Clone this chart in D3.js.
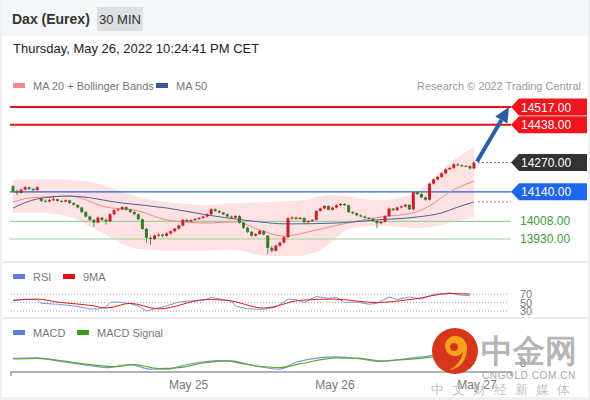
<!DOCTYPE html>
<html><head><meta charset="utf-8">
<script src="https://cdn.jsdelivr.net/npm/d3@7"></script>
<style>
body{margin:0;background:#fff;}
svg text{font-family:"Liberation Sans",Arial,sans-serif;}
</style>
</head><body>
<svg id="c" width="590" height="400"></svg>
<script>
// ---------- DATA ----------
const opens =[14165,14142,14135,14150,14160,14152,14148,14110,14100,14097,14103,14107,14099,14096,14102,14090,14082,14070,14050,14030,14015,14003,14025,14015,14008,14040,14058,14062,14072,14061,14050,14040,14018,13975,13935,13930,13945,13950,13944,13955,13965,13976,13990,14015,14008,14014,14019,14024,14030,14040,14062,14055,14048,14040,14030,14025,14032,14003,13980,13962,13945,13952,13966,13945,13890,13878,13900,13914,13938,14022,14026,14020,14024,14005,14010,14015,14055,14066,14077,14060,14070,14080,14086,14080,14050,14045,14035,14030,14024,14020,14010,14000,14006,14032,14065,14058,14070,14075,14082,14062,14138,14130,14115,14105,14176,14195,14206,14222,14240,14246,14262,14258,14255,14254,14244];
const highs =[14170,14150,14155,14166,14163,14158,14165,14114,14106,14108,14122,14110,14104,14106,14104,14094,14085,14073,14054,14034,14019,14030,14028,14022,14044,14062,14066,14076,14075,14066,14054,14043,14021,13980,13945,13950,13956,13954,13960,13968,13980,13994,14019,14020,14018,14022,14027,14034,14044,14066,14066,14058,14051,14044,14034,14036,14035,14006,13984,13966,13956,13970,13969,13948,13898,13905,13918,13942,14028,14030,14029,14028,14026,14014,14018,14058,14070,14080,14080,14074,14084,14090,14090,14083,14054,14048,14040,14034,14028,14024,14014,14010,14036,14070,14068,14074,14079,14086,14085,14142,14144,14134,14119,14180,14199,14210,14226,14244,14252,14266,14268,14262,14259,14257,14275];
const lows  =[14138,14125,14132,14146,14148,14143,14145,14094,14092,14094,14099,14096,14092,14093,14086,14078,14066,14045,14026,14010,13984,14000,14010,13994,14005,14036,14052,14058,14056,14046,14036,14014,13970,13914,13904,13925,13940,13936,13940,13950,13960,13972,13986,14004,14005,14010,14015,14020,14026,14036,14050,14043,14036,14026,14020,14021,13998,13975,13957,13940,13941,13948,13945,13862,13870,13874,13896,13910,13934,14015,14014,14016,14000,14001,14006,14012,14052,14062,14057,14057,14066,14076,14076,14046,14040,14031,14026,14020,14016,14006,13978,13996,14003,14028,14054,14055,14066,14071,14058,14058,14126,14111,14100,14101,14172,14191,14202,14218,14236,14242,14254,14251,14250,14238,14240];
const closes=[14142,14135,14150,14160,14152,14148,14160,14100,14097,14103,14107,14099,14096,14102,14090,14082,14070,14050,14030,14015,14003,14025,14015,14008,14040,14058,14062,14072,14061,14050,14040,14018,13975,13935,13930,13945,13950,13944,13955,13965,13976,13990,14015,14008,14014,14019,14024,14030,14040,14062,14055,14048,14040,14030,14025,14032,14003,13980,13962,13945,13952,13966,13950,13890,13878,13900,13914,13938,14022,14026,14020,14024,14005,14010,14015,14055,14066,14077,14060,14070,14080,14086,14080,14050,14045,14035,14030,14024,14020,14010,14000,14006,14032,14065,14058,14070,14075,14082,14062,14138,14130,14115,14105,14176,14195,14206,14222,14240,14246,14262,14258,14255,14254,14244,14270];

// indicator samples (candle index -> value)
const ma20Idx =[0,4,14,23,31,38,48,55,61,67,75,84,91,99,103,108,114];
const ma20Val =[14094,14112,14121,14072,14055,14015,14001,14006,13970,13943,13970,14006,14028,14046,14077,14139,14188];
const ma50Idx =[0,6,14,27,38,48,59,68,80,90,100,106,110,114];
const ma50Val =[14068,14108,14121,14090,14068,14037,14010,13997,14001,14015,14028,14046,14072,14095];
const bbUpIdx =[0,8,18,25,31,40,48,55,65,72,78,84,90,99,104,109,114];
const bbUpVal =[14192,14197,14188,14152,14117,14090,14081,14090,14095,14103,14126,14117,14103,14130,14201,14281,14339];
const bbLoIdx =[0,6,14,22,31,42,55,63,70,76,84,92,100,106,110,114];
const bbLoVal =[14046,14046,14028,13957,13886,13877,13881,13854,13854,13881,13979,13988,13979,13992,14010,14028];

const rsiIdx =[0,3,6,7,11,15,19,21,23,24,26,29,31,33,35,38,41,43,47,49,52,54,55,58,62,65,68,70,72,75,78,80,82,85,88,90,93,95,98,101,104,107,108,110,113];
const rsiVal =[55,58,57,48,46,42,35,35,39,50,51,47,42,30,35,42,51,53,55,62,57,53,42,35,34,39,58,57,50,64,60,62,50,51,46,48,63,57,63,58,69,71,73,68,66];
const rsiMaIdx=[0,6,11,20,23,29,36,48,53,62,71,79,90,99,108,113];
const rsiMaVal=[55,58,51,42,37,48,35,57,55,37,55,58,50,58,71,70];

const macdIdx =[0,6,11,20,23,29,34,38,43,51,54,60,66,70,80,85,91,95,99,104,108,113];
const macdVal =[12,13.6,5.6,-8,-12,-4,-16,-16,-4,6.4,5.6,-8,-16,2.4,16,12,4,8,13.6,20,28,32];
const sigIdx  =[0,6,12,21,25,30,36,41,47,53,57,66,71,80,86,91,95,102,108,113];
const sigVal  =[10.4,12,5.6,-6.4,-9.6,-4,-14.4,-12,0,5.6,-2.4,-12,-2.4,13.6,12,5.6,8,13.6,21.6,26.4];

const levels     =[14517,14438,14270,14140,14008,13930];
const levelKinds =["res","res","last","sup1","sup","sup"];
const tickLabels =["May 25","May 26","May 27"];
const tickIdx    =[43.3,79.5,114.6];
const rsiLevels  =[70,50,30];

// ---------- DRAW ----------
const svg=d3.select("#c");
const N=closes.length;
const x=d3.scaleLinear().domain([0,N-1]).range([13,474]);
const y=d3.scaleLinear().domain([13930,14517]).range([239,107]);
const yR=d3.scaleLinear().domain([30,70]).range([311,294]);
const yM=d3.scaleLinear().domain([-30,30]).range([374.5,351.5]);

// frame
svg.append("rect").attr("width",590).attr("height",400).attr("fill","#eef0f2");
svg.append("rect").attr("x",2).attr("y",0).attr("width",586).attr("height",36).attr("fill","#f5f6f7");
svg.append("rect").attr("x",2).attr("y",36).attr("width",586).attr("height",361).attr("fill","#fff");
svg.append("rect").attr("x",2).attr("y",261).attr("width",586).attr("height",2).attr("fill","#eceef0");
svg.append("rect").attr("x",2).attr("y",317).attr("width",586).attr("height",2).attr("fill","#eceef0");

// header
svg.append("text").attr("x",12).attr("y",24).attr("font-size",14).attr("font-weight","bold").attr("fill","#333").text("Dax (Eurex)");
svg.append("rect").attr("x",97).attr("y",7).attr("width",46).attr("height",24).attr("fill","#dcdfe3");
svg.append("text").attr("x",120).attr("y",24).attr("text-anchor","middle").attr("font-size",13).attr("fill","#333").text("30 MIN");
svg.append("text").attr("x",13).attr("y",53).attr("font-size",13).attr("fill","#222").text("Thursday, May 26, 2022 10:24:41 PM CET");

// legends
function legend(items,yy){
  items.forEach(it=>{
    svg.append("rect").attr("x",it.x).attr("y",yy-3).attr("width",12).attr("height",5).attr("fill",it.c);
    svg.append("text").attr("x",it.x+20).attr("y",yy+4).attr("font-size",11).attr("fill","#777").text(it.t);
  });
}
legend([{x:13,c:"#f48b8b",t:"MA 20 + Bollinger Bands"},{x:156,c:"#3b5a9a",t:"MA 50"}],86);
svg.append("text").attr("x",581).attr("y",90).attr("text-anchor","end").attr("font-size",11).attr("fill","#9a9a9a").text("Research \u00a9 2022 Trading Central");
legend([{x:13,c:"#5b7fdb",t:"RSI"},{x:63,c:"#e01010",t:"9MA"}],277);
legend([{x:13,c:"#5b7fdb",t:"MACD"},{x:77,c:"#3a9a1a",t:"MACD Signal"}],333);

// bollinger band area
function pts(idx,val){return idx.map((d,i)=>[d,val[i]]);}
const up=pts(bbUpIdx,bbUpVal), lo=pts(bbLoIdx,bbLoVal);
const mline=d3.line().x(d=>x(d[0])).y(d=>y(d[1])).curve(d3.curveMonotoneX);
const tmp=svg.append("path").attr("d",mline(lo)).attr("fill","none");
const len=tmp.node().getTotalLength();
const loSamples=[];
for(let s=len;s>=0;s-=2){const p=tmp.node().getPointAtLength(s);loSamples.push([p.x,p.y]);}
const p0=tmp.node().getPointAtLength(0); loSamples.push([p0.x,p0.y]);
tmp.remove();
svg.append("path").attr("d",mline(up)+"L"+loSamples.map(p=>p[0]+","+p[1]).join("L")+"Z")
  .attr("fill","#fbd5d5").attr("fill-opacity",0.7);

// level lines (behind candles)
const L0=10, L1=511;
levels.forEach((lv,i)=>{
  const k=levelKinds[i];
  if(k==="res") svg.append("line").attr("x1",L0).attr("x2",L1).attr("y1",y(lv)).attr("y2",y(lv)).attr("stroke","#e3141b").attr("stroke-width",2);
  else if(k==="sup1") svg.append("line").attr("x1",L0).attr("x2",L1).attr("y1",y(lv)).attr("y2",y(lv)).attr("stroke","#2a62d6").attr("stroke-width",1.2);
  else if(k==="sup") svg.append("line").attr("x1",L0).attr("x2",L1).attr("y1",y(lv)).attr("y2",y(lv)).attr("stroke","#9fcf9f").attr("stroke-width",1.2);
  else if(k==="last") svg.append("line").attr("x1",x(N-1)+4).attr("x2",L1).attr("y1",y(lv)).attr("y2",y(lv)).attr("stroke","#888").attr("stroke-width",1).attr("stroke-dasharray","2,2");
});
svg.append("line").attr("x1",x(N-1)+4).attr("x2",L1).attr("y1",y(ma50Val[ma50Val.length-1])).attr("y2",y(ma50Val[ma50Val.length-1])).attr("stroke","#888").attr("stroke-dasharray","2,2");

// MA lines
svg.append("path").attr("d",mline(pts(ma20Idx,ma20Val))).attr("fill","none").attr("stroke","#f08a8a").attr("stroke-width",1);
svg.append("path").attr("d",mline(pts(ma50Idx,ma50Val))).attr("fill","none").attr("stroke","#4d5f9c").attr("stroke-width",1);

// candles
const data=closes.map((c,i)=>({i,o:opens[i],h:highs[i],l:lows[i],c}));
const col=d=>d.c>=d.o?"#c8202a":"#3a7a28";
const cg=svg.append("g");
cg.selectAll("line").data(data).join("line")
  .attr("x1",d=>x(d.i)).attr("x2",d=>x(d.i)).attr("y1",d=>y(d.h)).attr("y2",d=>y(d.l))
  .attr("stroke",col).attr("stroke-width",1).attr("opacity",0.8);
cg.selectAll("rect").data(data).join("rect")
  .attr("x",d=>x(d.i)-1.5).attr("width",3)
  .attr("y",d=>y(Math.max(d.o,d.c))).attr("height",d=>Math.max(1,Math.abs(y(d.o)-y(d.c))))
  .attr("fill",col);

// level labels
levels.forEach((lv,i)=>{
  const k=levelKinds[i], cy=y(lv);
  const txt=lv.toFixed(2);
  if(k==="sup"){
    svg.append("text").attr("x",520).attr("y",cy+4).attr("font-size",12).attr("fill","#3c9a3c").text(txt);
  } else {
    const fill=k==="res"?"#f0141c":k==="last"?"#333333":"#1f66ef";
    svg.append("path").attr("d",`M511,${cy}L519,${cy-8.5}L587,${cy-8.5}L587,${cy+8.5}L519,${cy+8.5}Z`).attr("fill",fill);
    svg.append("text").attr("x",521).attr("y",cy+4.5).attr("font-size",12).attr("fill","#fff").text(txt);
  }
});

// arrow
const ax0=x(N-1)+3, ay0=y(closes[N-1])-1, ax1=509, ay1=y(14517);
const dx=ax1-ax0, dy=ay1-ay0, dl=Math.hypot(dx,dy), ux=dx/dl, uy=dy/dl;
const bx=ax1-ux*15, by=ay1-uy*15;
svg.append("line").attr("x1",ax0).attr("y1",ay0).attr("x2",bx).attr("y2",by).attr("stroke","#2c5ea6").attr("stroke-width",4);
svg.append("path").attr("d",`M${ax1},${ay1}L${bx-uy*7},${by+ux*7}L${bx+uy*7},${by-ux*7}Z`).attr("fill","#2c5ea6");

// RSI panel
rsiLevels.forEach(v=>{
  svg.append("line").attr("x1",11).attr("x2",509).attr("y1",yR(v)).attr("y2",yR(v)).attr("stroke","#aaa").attr("stroke-dasharray","1,2");
  svg.append("text").attr("x",520).attr("y",yR(v)+4).attr("font-size",11).attr("fill","#777").text(v);
});
const lineR=d3.line().x(d=>x(d[0])).y(d=>yR(d[1]));
svg.append("path").attr("d",lineR(pts(rsiIdx,rsiVal))).attr("fill","none").attr("stroke","#7b96e0").attr("stroke-width",1);
svg.append("path").attr("d",lineR.curve(d3.curveMonotoneX)(pts(rsiMaIdx,rsiMaVal))).attr("fill","none").attr("stroke","#e01a1a").attr("stroke-width",1);

// MACD panel
const lineM=d3.line().x(d=>x(d[0])).y(d=>yM(d[1])).curve(d3.curveMonotoneX);
svg.append("path").attr("d",lineM(pts(macdIdx,macdVal))).attr("fill","none").attr("stroke","#7b96e0").attr("stroke-width",1.2);
svg.append("path").attr("d",lineM(pts(sigIdx,sigVal))).attr("fill","none").attr("stroke","#5aaa2a").attr("stroke-width",1.2);
svg.append("text").attr("x",520).attr("y",yM(0)+4).attr("font-size",11).attr("fill","#777").text("0");

// x axis
const axG=svg.append("g").attr("transform","translate(0,372)")
  .call(d3.axisBottom(x).tickValues(tickIdx).tickSize(0).tickPadding(8).tickFormat((d,i)=>tickLabels[i]));
axG.select(".domain").remove();
axG.selectAll("text").attr("font-size",12).attr("fill","#777").attr("font-family","Liberation Sans, Arial, sans-serif");
svg.append("path").attr("d","M11,376V372H511V376").attr("fill","none").attr("stroke","#999").attr("stroke-width",1.5);

// watermark
const wm=svg.append("g");
wm.append("circle").attr("cx",455).attr("cy",351).attr("r",23).attr("fill","#d8361c");
wm.append("path").attr("d","M455,336 a10,10 0 1,0 8,16 q-2,12 -14,18 q16,-2 18,-20 a12,12 0 0,0 -12,-14z").attr("fill","#f7a21b");
wm.append("circle").attr("cx",454).attr("cy",347).attr("r",4).attr("fill","#d8361c");
wm.append("text").attr("x",529).attr("y",362).attr("text-anchor","middle").attr("font-size",32).attr("font-weight","bold")
  .attr("fill","#a8a8a8").attr("fill-opacity",0.85).attr("font-family","Noto Sans CJK SC").text("中金网");
wm.append("text").attr("x",529).attr("y",379).attr("text-anchor","middle").attr("font-size",10).attr("letter-spacing",0.6)
  .attr("fill","#a8a8a8").text("CNGOLD.COM.CN");
wm.append("text").attr("x",504).attr("y",394).attr("text-anchor","middle").attr("font-size",13).attr("letter-spacing",8)
  .attr("fill","#b0b0b0").attr("fill-opacity",0.8).attr("font-family","Noto Sans CJK SC").text("中文财经新媒体");
</script>
</body></html>
